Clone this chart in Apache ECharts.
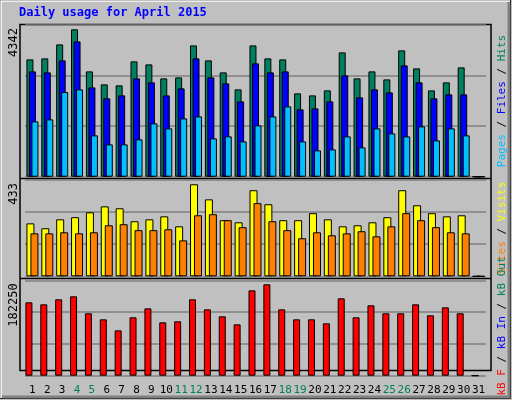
<!DOCTYPE html>
<html><head><meta charset="utf-8">
<script src="https://cdn.jsdelivr.net/npm/echarts@6/dist/echarts.min.js"></script>
<style>html,body{margin:0;padding:0;background:#c0c0c0}#c{width:512px;height:400px}</style>
</head><body><div id="c"></div>
<script>
const days = ['1','2','3','4','5','6','7','8','9','10','11','12','13','14','15','16','17','18','19','20','21','22','23','24','25','26','27','28','29','30','31'];
const weekend = ['4','5','11','12','18','19','25','26'];
const hits  = [3457,3486,3899,4342,3103,2720,2691,3398,3309,2897,2926,3869,3427,3074,2573,3869,3486,3457,2455,2396,2543,3663,2897,3103,2867,3722,3191,2543,2779,3221,0];
const files = [3103,3074,3427,3987,2632,2308,2396,2897,2779,2396,2602,3486,2926,2750,2219,3339,3074,3103,1984,2013,2219,2985,2337,2573,2484,3280,2779,2308,2426,2426,0];
const pages = [1630,1689,2494,2573,1218,953,953,1100,1571,1424,1718,1777,1129,1188,1041,1512,1777,2072,1041,776,805,1188,864,1424,1277,1188,1483,1070,1424,1218,0];
const visits = [249,226,268,278,301,329,320,259,268,282,235,433,362,264,254,405,339,264,264,297,268,235,240,254,278,405,334,297,282,287,0];
const sites  = [202,202,207,202,207,240,245,217,217,221,169,287,292,264,231,344,259,217,179,207,193,202,212,188,235,297,264,231,207,202,0];
const kbytes = [146300,142300,152300,158300,124400,112400,90400,116400,134300,106400,108400,152300,132300,118400,102400,170200,182250,132300,112400,112400,104400,154300,116400,140300,124400,124400,142300,120400,136300,124400,0];
const maxLabels = ['4342','433','182250'];
const axisMax = [4470, 453, 190230];

const L=25, W=461;
const panels=[{top:25,h:151.7},{top:180,h:96.3},{top:280.3,h:95.4}];
const grids=panels.map(p=>({left:L,top:p.top,width:W,height:p.h,show:false}));
const xAxes=panels.map((p,i)=>({type:'category',gridIndex:i,data:days,axisLine:{show:false},axisTick:{show:false},
  axisLabel:{show:i===2,fontFamily:'DejaVu Sans Mono',fontSize:11,margin:9,interval:0,
    color:(v)=>weekend.includes(v)?'#00805c':'#000'}}));
const yAxes=axisMax.map((m,i)=>({type:'value',gridIndex:i,min:0,max:m,interval:m/3,axisLabel:{show:false},
  axisLine:{show:false},axisTick:{show:false},splitLine:{lineStyle:{color:'#808080',width:1.5}}}));
const bs={borderColor:'#000',borderWidth:1};
const series=[
 {type:'bar',xAxisIndex:0,yAxisIndex:0,data:hits,barWidth:7,barGap:'-64%',itemStyle:{color:'#008060',...bs}},
 {type:'bar',xAxisIndex:0,yAxisIndex:0,data:files,barWidth:7,barGap:'-64%',itemStyle:{color:'#0000ff',...bs}},
 {type:'bar',xAxisIndex:0,yAxisIndex:0,data:pages,barWidth:7,barGap:'-64%',itemStyle:{color:'#00c0ff',...bs}},
 {type:'bar',xAxisIndex:1,yAxisIndex:1,data:visits,barWidth:8,barGap:'-50%',itemStyle:{color:'#ffff00',...bs}},
 {type:'bar',xAxisIndex:1,yAxisIndex:1,data:sites,barWidth:8,barGap:'-50%',itemStyle:{color:'#ff8000',...bs}},
 {type:'bar',xAxisIndex:2,yAxisIndex:2,data:kbytes,barWidth:7,barGap:'0%',itemStyle:{color:'#ff0000',...bs}},
 {type:'bar',xAxisIndex:2,yAxisIndex:2,data:kbytes.map(()=>0),barWidth:7,barGap:'0%',itemStyle:{color:'transparent',borderWidth:0}}
];
const mono='DejaVu Sans Mono';
const g=[
 {type:'rect',shape:{x:0.5,y:0.5,width:510,height:398},style:{fill:'none',stroke:'#000',lineWidth:1}},
 {type:'polyline',shape:{points:[[1,398],[1,1],[510,1]]},style:{stroke:'#fff',fill:'none',lineWidth:1.5}},
 {type:'polyline',shape:{points:[[2,397],[509,397],[509,2]]},style:{stroke:'#808080',fill:'none',lineWidth:3}},
 {type:'rect',shape:{x:20,y:24.5,width:471,height:346},style:{fill:'none',stroke:'#000',lineWidth:1.5}},
 {type:'line',shape:{x1:20,y1:178.5,x2:491,y2:178.5},style:{stroke:'#000',lineWidth:1.5}},
 {type:'line',shape:{x1:20,y1:278.5,x2:491,y2:278.5},style:{stroke:'#000',lineWidth:1.5}},
 {type:'text',x:19,y:7,style:{text:'Daily usage for April 2015',fill:'#0000ff',font:'bold 12px "DejaVu Sans Mono"'}}
];
panels.forEach((p,i)=>{
 g.push({type:'text',x:8,y:p.top+3,rotation:Math.PI/2,style:{text:maxLabels[i],fill:'#000',font:'12px "DejaVu Sans Mono"',align:'right',verticalAlign:'top'}});
});
const rt=(parts,cy)=>({type:'text',x:497,y:cy,rotation:Math.PI/2,style:{
 text:parts.map((p,k)=>'{s'+k+'|'+p[0]+'}').join(''),align:'center',verticalAlign:'top',
 font:'11px "DejaVu Sans Mono"',rich:Object.fromEntries(parts.map((p,k)=>['s'+k,{fill:p[1],fontFamily:mono,fontSize:11}]))}});
g.push(rt([['Pages','#00c0ff'],[' / ','#000'],['Files','#0000ff'],[' / ','#000'],['Hits','#008060']],101));
g.push(rt([['Sites','#ff8000'],[' / ','#000'],['Visits','#ffff00']],228));
g.push(rt([['kB F','#ff0000'],[' / ','#000'],['kB In','#0000ff'],[' / ','#000'],['kB Out','#008060']],326));
const chart=echarts.init(document.getElementById('c'));
chart.setOption({animation:false,backgroundColor:'#c0c0c0',grid:grids,xAxis:xAxes,yAxis:yAxes,series:series,graphic:g});
</script></body></html>
